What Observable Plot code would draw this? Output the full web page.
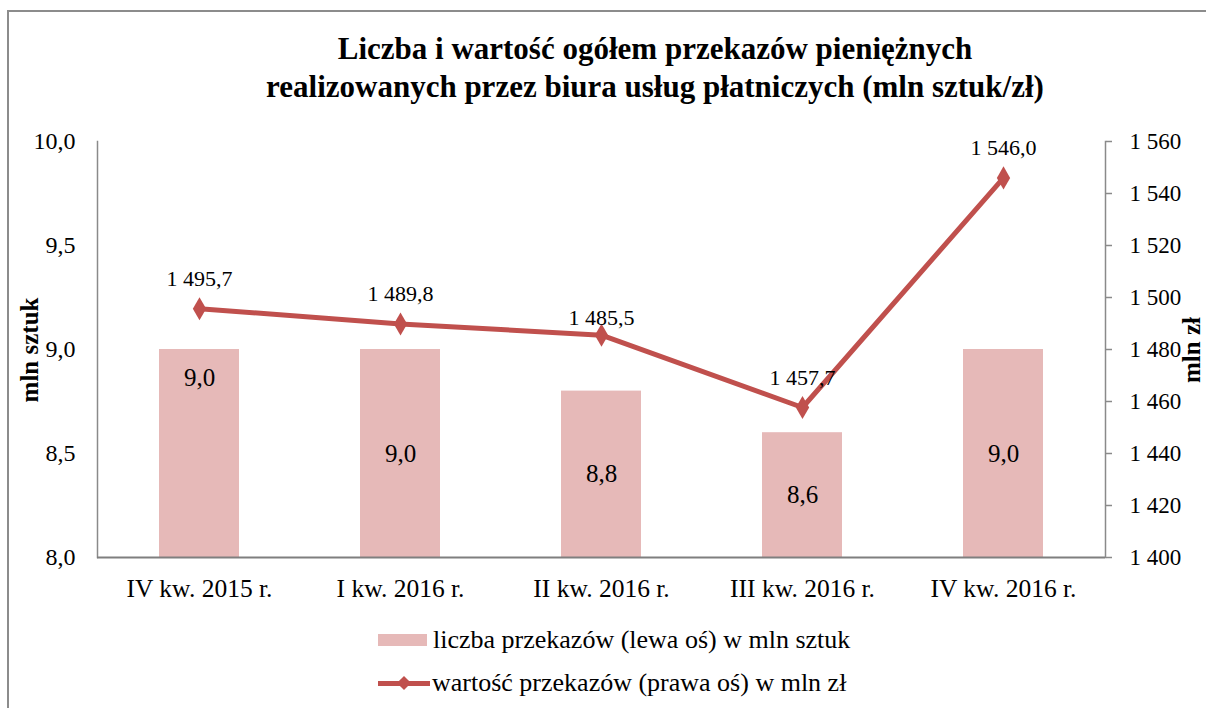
<!DOCTYPE html>
<html>
<head>
<meta charset="utf-8">
<script src="https://cdn.jsdelivr.net/npm/d3@7"></script>
<script src="https://cdn.jsdelivr.net/npm/@observablehq/plot@0.6"></script>
<style>
  html, body { margin: 0; padding: 0; background: #fff; }
  #wrap { position: relative; width: 1206px; height: 708px; overflow: hidden; font-family: "Liberation Serif", "Times New Roman", serif; color: #000; }
  #frame { position: absolute; left: 7px; top: 10px; width: 1300px; height: 800px; border-left: 2px solid #8c8c8c; border-top: 2px solid #8c8c8c; }
  #chart { position: absolute; left: 0; top: 0; }
  #title { position: absolute; left: 205px; width: 900px; top: 30px; text-align: center; font-weight: bold; font-size: 31px; line-height: 38px; }
  .ylab { position: absolute; font-weight: bold; font-size: 25px; white-space: nowrap; transform: translate(-50%, -50%) rotate(-90deg); }
  .leg { position: absolute; left: 378px; height: 30px; display: flex; align-items: center; font-size: 26px; white-space: nowrap; }
  .sw-bar { width: 49px; height: 12px; background: #e6b9b8; margin-right: 6px; }
  .sw-line { position: relative; width: 52px; height: 5px; background: #c0504d; margin-right: 2px; }
  .sw-line::after { content: ""; position: absolute; left: 21px; top: -3px; width: 10px; height: 10px; background: #c0504d; transform: rotate(45deg); }
</style>
</head>
<body>
<div id="wrap">
  <div id="frame"></div>
  <div id="chart"></div>
  <div id="title"></div>
  <div class="ylab" id="ylabL" style="left:30px; top:350px;"></div>
  <div class="ylab" id="ylabR" style="left:1192px; top:350px;"></div>
  <div class="leg" id="leg1" style="top:625px;"><div class="sw-bar"></div><span></span></div>
  <div class="leg" id="leg2" style="top:668px;"><div class="sw-line"></div><span></span></div>
</div>
<script>
// ---- data ----
const categories = ["IV kw. 2015 r.", "I kw. 2016 r.", "II kw. 2016 r.", "III kw. 2016 r.", "IV kw. 2016 r."];
const counts = [9.0, 9.0, 8.8, 8.6, 9.0];                  // liczba przekazów, mln sztuk (lewa oś)
const amounts = [1495.7, 1489.8, 1485.5, 1457.7, 1546.0];  // wartość przekazów, mln zł (prawa oś)
const leftTicks = [8.0, 8.5, 9.0, 9.5, 10.0];
const rightTicks = [1400, 1420, 1440, 1460, 1480, 1500, 1520, 1540, 1560];
const titleLines = ["Liczba i wartość ogółem przekazów pieniężnych", "realizowanych przez biura usług płatniczych (mln sztuk/zł)"];
const leftLabel = "mln sztuk";
const rightLabel = "mln zł";
const seriesNames = ["liczba przekazów (lewa oś) w mln sztuk", "wartość przekazów (prawa oś) w mln zł"];

// ---- helpers ----
const leftDomain = [8, 10];
const rightDomain = [1400, 1560];
const toLeft = v => leftDomain[0] + (v - rightDomain[0]) * (leftDomain[1] - leftDomain[0]) / (rightDomain[1] - rightDomain[0]);
const fromLeft = y => rightDomain[0] + (y - leftDomain[0]) * (rightDomain[1] - rightDomain[0]) / (leftDomain[1] - leftDomain[0]);
const sep = s => s.replace(/\B(?=(\d{3})+(?!\d))/g, " ");
const fmt1 = v => sep(v.toFixed(1)).replace(".", ",");
const fmtInt = v => sep(String(Math.round(v)));

const data = categories.map((c, i) => ({cat: c, count: counts[i], amount: amounts[i], i}));
// Excel-style label placement: first bar label "inside end", others centred;
// third line label sits closer to its marker.
const barInsideEnd = d => d.i === 0;
const lineLabelClose = d => d.i === 2;

document.getElementById("title").innerHTML = titleLines.join("<br>");
document.getElementById("ylabL").textContent = leftLabel;
document.getElementById("ylabR").textContent = rightLabel;
document.querySelector("#leg1 span").textContent = seriesNames[0];
document.querySelector("#leg2 span").textContent = seriesNames[1];

const chart = Plot.plot({
  width: 1206,
  height: 708,
  marginTop: 141,
  marginBottom: 151,
  marginLeft: 97,
  marginRight: 101,
  style: {fontFamily: "Liberation Serif, Times New Roman, serif", background: "transparent", color: "#000", overflow: "visible"},
  x: {domain: categories, paddingInner: 0.6, paddingOuter: 0.3, label: null},
  y: {domain: leftDomain, label: null},
  marks: [
    Plot.barY(data, {x: "cat", y1: leftDomain[0], y2: "count", fill: "#e6b9b8"}),
    Plot.frame({anchor: "left", stroke: "#8a8a8a", strokeWidth: 1.5}),
    Plot.frame({anchor: "right", stroke: "#8a8a8a", strokeWidth: 1.5}),
    Plot.ruleY([leftDomain[0]], {stroke: "#7f7f7f", strokeWidth: 2}),
    Plot.axisY({ticks: leftTicks, tickSize: 0, tickPadding: 22, tickFormat: fmt1, fontSize: 24, fill: "#000", label: null}),
    Plot.axisY({anchor: "right", ticks: rightTicks.map(toLeft), tickSize: 6, tickPadding: 18, stroke: "#8a8a8a", strokeWidth: 1.5, fill: "#000",
                tickFormat: d => fmtInt(fromLeft(d)), fontSize: 23, label: null}),
    Plot.axisX({tickSize: 0, tickPadding: 21, fontSize: 25.5, fill: "#000", label: null}),
    // bar value labels
    Plot.text(data.filter(barInsideEnd), {x: "cat", y: "count", dy: 28, text: d => fmt1(d.count), fontSize: 25, fill: "#000"}),
    Plot.text(data.filter(d => !barInsideEnd(d)), {x: "cat", y: d => (leftDomain[0] + d.count) / 2, text: d => fmt1(d.count), fontSize: 25, fill: "#000"}),
    // line series
    Plot.line(data, {x: "cat", y: d => toLeft(d.amount), stroke: "#c0504d", strokeWidth: 5}),
    Plot.dot(data, {x: "cat", y: d => toLeft(d.amount), symbol: "diamond", r: 7, fill: "#c0504d", stroke: null}),
    Plot.text(data.filter(d => !lineLabelClose(d)), {x: "cat", y: d => toLeft(d.amount), text: d => fmt1(d.amount), fontSize: 22, fill: "#000", dy: -30}),
    Plot.text(data.filter(lineLabelClose), {x: "cat", y: d => toLeft(d.amount), text: d => fmt1(d.amount), fontSize: 22, fill: "#000", dy: -17})
  ]
});
document.getElementById("chart").appendChild(chart);
</script>
</body>
</html>
